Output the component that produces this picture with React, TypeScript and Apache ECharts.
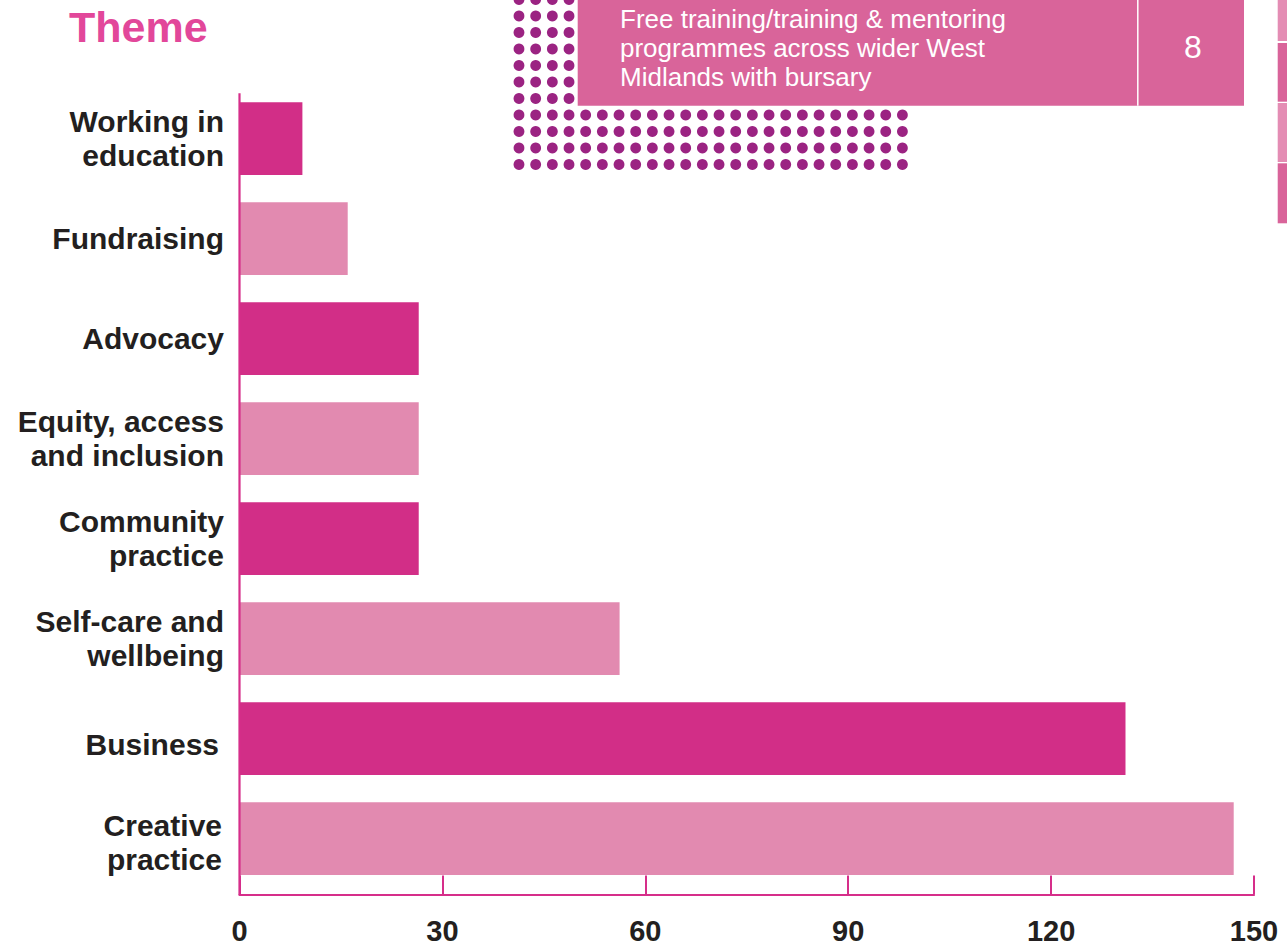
import React, { useEffect, useRef } from "react";
import * as echarts from "echarts";

const categories = [
  "Working in\neducation",
  "Fundraising",
  "Advocacy",
  "Equity, access\nand inclusion",
  "Community\npractice",
  "Self-care and\nwellbeing",
  "Business",
  "Creative\npractice",
];
const values = [9.3, 16, 26.5, 26.5, 26.5, 56.2, 131, 147];
const xMin = 0;
const xMax = 150;
const xInterval = 30;

const titleText = "Theme";
const boxText = "Free training/training & mentoring\nprogrammes across wider West\nMidlands with bursary";
const boxValue = "8";

const FONT = '"Liberation Sans", Arial, Helvetica, sans-serif';
const DARK = "#D22E87";
const LIGHT = "#E28AB0";
const AXIS = "#D62E8A";
const TEXT = "#231F20";

// label style variants (layout only)
const labelStyleKey: Record<string, string> = {
  Business: "low",
  "Creative\npractice": "low2",
};

export default function App() {
  const ref = useRef<HTMLDivElement>(null);
  useEffect(() => {
    const chart = echarts.init(ref.current!, null, { renderer: "svg" });
    const gridLeft = 239.5;
    const gridTop = 88.6;
    const gridHeight = 800;
    const gridRight = 33;

    const deco: any[] = [];
    for (let r = 0; r < 11; r++) {
      const cols = r < 7 ? 4 : 24;
      for (let c = 0; c < cols; c++) {
        deco.push({
          type: "circle",
          silent: true,
          shape: { cx: 519 + c * 16.67, cy: -0.5 + r * 16.5, r: 5.4 },
          style: { fill: "#9B2382" },
        });
      }
    }
    deco.push({
      type: "rect",
      silent: true,
      shape: { x: 577.7, y: 0, width: 1244 - 577.7, height: 105.7 },
      style: { fill: "#D9649A" },
    });
    deco.push({
      type: "line",
      silent: true,
      shape: { x1: 1137.8, y1: 0, x2: 1137.8, y2: 105.7 },
      style: { stroke: "#FFFFFF", lineWidth: 1.5 },
    });
    deco.push({
      type: "text",
      silent: true,
      x: 620,
      y: 48,
      style: {
        text: boxText,
        fill: "#FFFFFF",
        font: `26px ${FONT}`,
        lineHeight: 29,
        verticalAlign: "middle",
        align: "left",
      },
    });
    deco.push({
      type: "text",
      silent: true,
      x: 1193,
      y: 47,
      style: {
        text: boxValue,
        fill: "#FFFFFF",
        font: `32px ${FONT}`,
        verticalAlign: "middle",
        align: "center",
      },
    });
    const strips = [
      [0, 41, "#E48DB4"],
      [43, 101.7, "#D9649A"],
      [103, 162, "#E48DB4"],
      [163.3, 223.3, "#D9649A"],
    ];
    strips.forEach(([y0, y1, col]) => {
      deco.push({
        type: "rect",
        silent: true,
        shape: { x: 1277.7, y: y0 as number, width: 10, height: (y1 as number) - (y0 as number) },
        style: { fill: col as string },
      });
    });
    deco.push({
      type: "line",
      silent: true,
      z: 100,
      shape: { x1: gridLeft, y1: 93.3, x2: gridLeft, y2: 895 },
      style: { stroke: AXIS, lineWidth: 2.2 },
    });

    const baseRich = { fontFamily: FONT, fontSize: 30, fontWeight: "bold", lineHeight: 34, color: TEXT, align: "right" };

    chart.setOption({
      animation: false,
      backgroundColor: "#FFFFFF",
      title: {
        text: titleText,
        left: 69,
        top: 5,
        padding: 0,
        textStyle: { fontFamily: FONT, fontSize: 43, fontWeight: "bold", color: "#E2479A" },
      },
      grid: { left: gridLeft, top: gridTop, height: gridHeight, right: gridRight, containLabel: false },
      xAxis: {
        type: "value",
        min: xMin,
        max: xMax,
        interval: xInterval,
        offset: 5.8,
        axisLine: { show: true, lineStyle: { color: AXIS, width: 2.2 } },
        axisTick: { show: true, inside: true, length: 19, lineStyle: { color: AXIS, width: 2 } },
        splitLine: { show: false },
        axisLabel: {
          margin: 22,
          fontFamily: FONT,
          fontSize: 29,
          lineHeight: 29,
          fontWeight: "bold",
          color: TEXT,
        },
      },
      yAxis: {
        type: "category",
        inverse: true,
        data: categories,
        axisLine: { show: false },
        axisTick: { show: false },
        axisLabel: {
          margin: 15.5,
          fontFamily: FONT,
          fontSize: 30,
          fontWeight: "bold",
          lineHeight: 34,
          color: TEXT,
          align: "right",
          formatter: (v: string) => {
            const key = labelStyleKey[v] || "n";
            return v
              .split("\n")
              .map((line) => `{${key}|${line}}`)
              .join("\n");
          },
          rich: {
            n: { ...baseRich },
            low: { ...baseRich, padding: [12, 5, 0, 0] },
            low2: { ...baseRich, padding: [8, 2, 0, 0] },
          },
        },
      },
      series: [
        {
          type: "bar",
          data: values,
          barCategoryGap: "27.3%",
          itemStyle: {
            color: (p: any) => (p.dataIndex % 2 === 0 ? DARK : LIGHT),
          },
        },
      ],
      graphic: deco,
    });
    return () => chart.dispose();
  }, []);
  return (
    <div
      ref={ref}
      style={{ position: "absolute", left: 0, top: 0, width: 1287, height: 949 }}
    />
  );
}
